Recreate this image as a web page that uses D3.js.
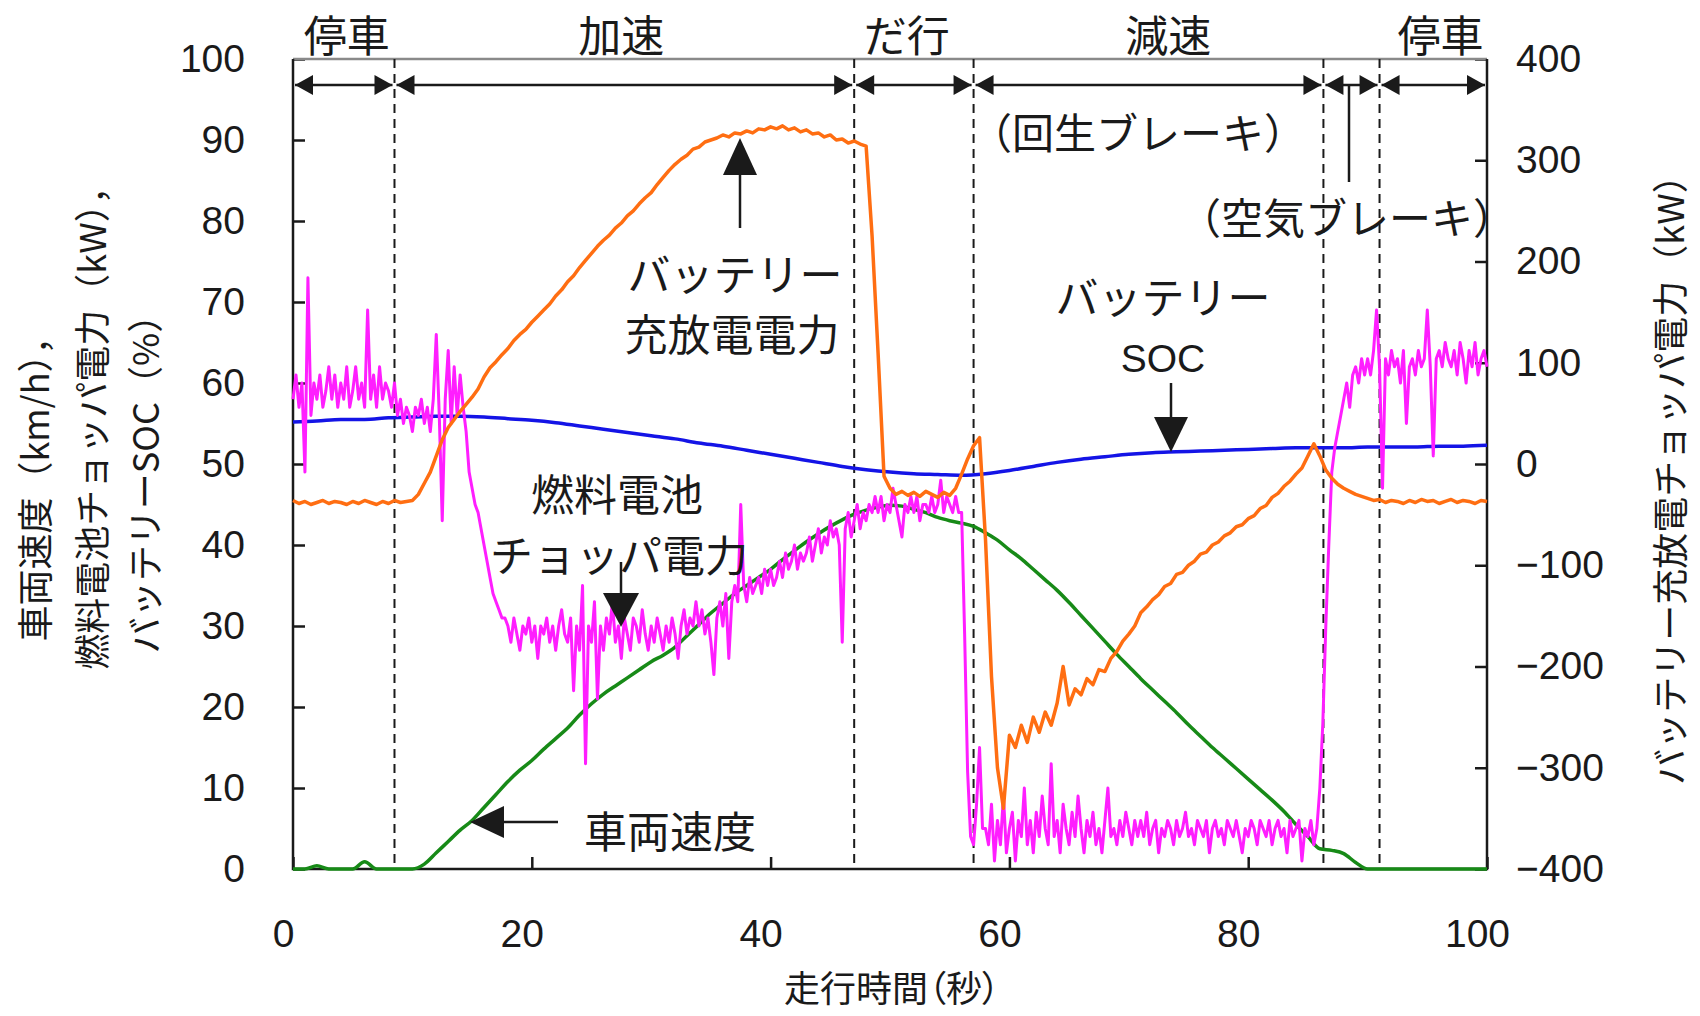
<!DOCTYPE html>
<html>
<head>
<meta charset="utf-8">
<script src="https://cdn.jsdelivr.net/npm/d3@7"></script>
<style>
  body { margin: 0; background: #fff; }
  .jp { font-family: "Noto Sans CJK JP", sans-serif; fill: #1a1a1a; }
  .palt { font-feature-settings: "palt"; }
</style>
</head>
<body>
<div id="body"></div>
<script>
// sampling step of each logged series (s)
let fcStep = 0.25, battStep = 0.5, socStep = 2, speedStep = 1

// fuel cell chopper power (kW), left axis, every 0.25 s
let fcPower = [
  58,61,57,60, 49,73,56,60, 58,61,57,59, 62,58,61,57, 60,58,62,57, 59,62,58,60, 57,69,58,61, 57,62,58,60, 59,57,60,56, 58,55,57,56,
  54,57,56,58, 55,57,54,58, 66,56,43,58, 64,55,62,56, 61,57,54,49, 47,45,44,42, 40,38,36,34, 33,32,31,31, 30,28,31,29, 27,30,29,31,
  28,30,26,30, 29,31,28,30, 27,30,32,29, 28,31,22,30, 27,35,13,30, 28,33,21,30, 27,31,29,33, 28,30,26,31, 29,27,31,30, 28,32,29,27,
  30,28,31,29, 27,30,28,31, 29,26,30,32, 29,31,30,33, 30,32,29,31, 28,24,31,33, 30,34,26,33, 35,33,45,35, 33,36,34,35, 36,34,37,35,
  37,35,36,38, 36,39,37,38, 40,37,39,38, 39,41,38,40, 42,39,41,40, 43,41,42,40, 28,42,44,41, 43,45,42,44, 43,45,44,46, 44,46,43,45,
  44,47,45,43, 41,45,44,46, 44,46,43,45, 45,44,46,44, 45,48,44,46, 45,44,46,44, 44,29,12,4, 3,8,15,5, 5,3,8,1, 6,3,9,2,
  5,7,1,6, 4,10,3,6, 2,7,4,9, 5,3,13,4, 6,2,8,5, 3,7,4,9, 5,2,6,4, 7,3,5,2, 6,10,4,5, 3,6,4,7,
  5,3,6,4, 6,4,7,3, 5,6,2,5, 4,6,5,3, 6,4,5,7, 4,5,3,6, 5,4,6,2, 5,6,4,5, 3,6,5,4, 6,4,2,5,
  4,6,5,3, 6,5,4,6, 3,5,6,4, 5,2,6,4, 5,6,1,5, 4,6,3,5, 10,18,30,40, 49,52,54,56, 58,60,57,61, 62,60,63,61,
  63,61,64,69, 62,47,63,61, 64,62,63,60, 64,55,62,63, 61,64,62,63, 69,62,51,63, 64,62,65,63, 62,64,61,65, 63,60,64,62, 65,61,63,64,
  62
]

// battery charge/discharge power (kW), right axis, every 0.5 s
let battPower = [
  -36,-39,-37,-40,-38,-36,-39,-37,-38,-40, -37,-39,-36,-38,-40,-37,-39,-36,-38,-37,
  -36,-30,-19,-8,8,24,36,44,52,59, 66,74,86,95,101,108,114,122,128,133,
  140,146,152,158,166,172,180,186,194,201, 208,215,221,226,233,238,245,250,257,263,
  268,276,283,290,296,301,305,311,313,318, 320,322,325,323,327,326,329,327,331,330,
  333,331,334,330,332,328,330,326,327,323, 325,320,321,317,319,316,314,225,110,-12,
  -24,-30,-27,-31,-28,-32,-27,-30,-33,-28, -31,-24,-10,5,18,26,-75,-210,-300,-340,
  -268,-280,-258,-275,-250,-265,-245,-258,-236,-200, -238,-222,-228,-212,-218,-203,-205,-192,-185,-175,
  -168,-160,-147,-141,-134,-129,-121,-118,-109,-107, -100,-96,-89,-87,-80,-77,-71,-68,-62,-60,
  -54,-51,-44,-41,-33,-29,-22,-17,-10,-4, 8,20,8,-6,-14,-20,-24,-27,-30,-32,
  -34,-36,-35,-38,-36,-37,-39,-36,-38,-35, -37,-36,-39,-37,-35,-38,-36,-37,-39,-36,
  -37
]

// battery SOC (%), left axis, every 2 s
let soc = [
  55.2,55.3,55.5,55.5,55.7,55.8,55.9,55.9,55.8,55.6,
  55.4,55.1,54.7,54.3,53.9,53.5,53.1,52.6,52.2,51.7,
  51.2,50.7,50.2,49.7,49.3,49.0,48.8,48.7,48.6,48.8,
  49.2,49.7,50.2,50.6,50.9,51.2,51.4,51.5,51.6,51.7,
  51.8,51.9,52.0,52.0,52.0,52.1,52.1,52.1,52.2,52.2,
  52.3
]

// vehicle speed (km/h), left axis, every 1 s
let speed = [
  0,0,0.4,0,0,0,0.9,0,0,0,
  0,0.6,2.0,3.4,4.8,6.0,7.6,9.2,10.8,12.2,
  13.4,14.8,16.1,17.4,19.0,20.4,21.6,22.6,23.6,24.6,
  25.6,26.4,27.4,28.8,30.2,31.6,32.8,34.0,35.0,36.0,
  37.0,38.2,39.3,40.4,41.4,42.3,43.1,43.8,44.3,44.7,
  44.9,44.8,44.4,44.0,43.4,43.0,42.7,42.3,41.5,40.6,
  39.4,38.3,37.0,35.7,34.4,32.9,31.3,29.7,28.1,26.5,
  25.0,23.5,22.1,20.7,19.3,17.8,16.4,15.0,13.7,12.4,
  11.1,9.8,8.5,7.1,5.5,4.0,2.5,2.3,1.9,0.8,
  0,0,0,0,0,0,0,0,0,0,0
]

// driving phases: boundaries (s) and names
let phaseBounds = [0, 8.5, 47.0, 57.0, 86.3, 91.0, 100]
let phaseNames = ["停車", "加速", "だ行", "減速", "停車"]

// tick labels
let xTicks = [0, 20, 40, 60, 80, 100]
let leftTicks = [0, 10, 20, 30, 40, 50, 60, 70, 80, 90, 100]
let rightTicks = [-400, -300, -200, -100, 0, 100, 200, 300, 400]

// layout of the phase names (s) -- placed by eye, not centred on the spans
let phaseLabelAt = [4.5, 27.5, 51.4, 73.3, 96.1]

// set the dimensions and margins of the graph
let margin = {top: 59, right: 213, bottom: 147, left: 293},
  width = 1700 - margin.left - margin.right,
  height = 1016 - margin.top - margin.bottom;

let root = d3.select("#body")
  .append("svg")
  .attr("width", 1700)
  .attr("height", 1016)
  .style("display", "block")

root.append("rect").attr("width", 1700).attr("height", 1016).attr("fill", "#fff")

let svg = root.append("g")
  .attr("transform", "translate(" + margin.left + "," + margin.top + ")")

let x = d3.scaleLinear().domain([0, 100]).range([0, width])
let yL = d3.scaleLinear().domain([0, 100]).range([height, 0])
let yR = d3.scaleLinear().domain([-400, 400]).range([height, 0])

let ink = "#1a1a1a"
let numFont = "'Liberation Sans', Arial, sans-serif"

function styleAxis(g) {
  g.select(".domain").remove()
  g.attr("font-size", 39).attr("font-family", numFont).attr("color", ink)
  g.selectAll(".tick line").attr("stroke-width", 2.5)
}

// Add X axis
svg.append("g")
  .attr("transform", "translate(0," + height + ")")
  .call(d3.axisBottom(x).tickValues(xTicks).tickSize(-12).tickSizeOuter(0).tickPadding(50))
  .call(styleAxis)
  .call(g => g.selectAll(".tick text").attr("dx", -10))

// Add left Y axis
svg.append("g")
  .call(d3.axisLeft(yL).tickValues(leftTicks).tickSize(-12).tickSizeOuter(0).tickPadding(48))
  .call(styleAxis)

// Add right Y axis
svg.append("g")
  .attr("transform", "translate(" + width + ",0)")
  .call(d3.axisRight(yR).tickValues(rightTicks).tickSize(-12).tickSizeOuter(0).tickPadding(29))
  .call(styleAxis)

// frame
svg.append("line").attr("x1", 0).attr("x2", width).attr("y1", 0).attr("y2", 0)
  .attr("stroke", "#8a8a8a").attr("stroke-width", 2.5)
svg.append("path")
  .attr("d", "M0,0V" + height + "H" + width + "V0")
  .attr("fill", "none").attr("stroke", ink).attr("stroke-width", 2.5)

// phase boundaries
svg.selectAll(".bound")
  .data(phaseBounds.slice(1, -1))
  .enter()
  .append("line")
  .attr("x1", d => x(d)).attr("x2", d => x(d))
  .attr("y1", 0).attr("y2", height)
  .attr("stroke", ink).attr("stroke-width", 2)
  .attr("stroke-dasharray", "9,6")

// series lines
function series(values, step, y, color, w, curve) {
  svg.append("path")
    .datum(values)
    .attr("d", d3.line()
      .x((d, i) => x(i * step))
      .y(d => y(d))
      .curve(curve || d3.curveLinear))
    .attr("fill", "none")
    .attr("stroke", color)
    .attr("stroke-width", w)
    .attr("stroke-linejoin", "round")
}
series(speed, speedStep, yL, "#178a17", 3.5, d3.curveMonotoneX)
series(soc, socStep, yL, "#1414e6", 3.5, d3.curveMonotoneX)
series(fcPower, fcStep, yL, "#ff1eff", 3)
series(battPower, battStep, yR, "#ff6e12", 3.5)

// phase arrows along the top
let arrowY = 26
function arrowHead(g, tipX, tipY, dir, len, half) {
  // dir: unit vector the arrow points to
  let bx = tipX - dir[0] * len, by = tipY - dir[1] * len
  let px = -dir[1] * half, py = dir[0] * half
  g.append("path")
    .attr("d", "M" + tipX + "," + tipY + "L" + (bx + px) + "," + (by + py) + "L" + (bx - px) + "," + (by - py) + "Z")
    .attr("fill", ink)
}
for (let i = 0; i < phaseBounds.length - 1; i++) {
  let a = x(phaseBounds[i]) + 2, b = x(phaseBounds[i + 1]) - 2
  svg.append("line").attr("x1", a).attr("x2", b).attr("y1", arrowY).attr("y2", arrowY)
    .attr("stroke", ink).attr("stroke-width", 2.5)
  arrowHead(svg, a, arrowY, [-1, 0], 18, 10)
  arrowHead(svg, b, arrowY, [1, 0], 18, 10)
}

// phase names
root.selectAll(".phase")
  .data(phaseNames)
  .enter()
  .append("text")
  .attr("class", "jp")
  .attr("x", (d, i) => margin.left + x(phaseLabelAt[i]))
  .attr("y", 33)
  .attr("text-anchor", "middle")
  .attr("dominant-baseline", "central")
  .attr("font-size", 43)
  .text(d => d)

// annotations (page coordinates)
function label(txt, px, py, size, cls, font) {
  let t = root.append("text")
    .attr("class", "jp " + (cls || ""))
    .attr("x", px).attr("y", py)
    .attr("text-anchor", "middle")
    .attr("dominant-baseline", "central")
    .attr("font-size", size)
    .text(txt)
  if (font) t.style("font-family", font)
  return t
}
function pointer(x1, y1, x2, y2, len, half) {
  let dx = x2 - x1, dy = y2 - y1, n = Math.hypot(dx, dy)
  let dir = [dx / n, dy / n]
  root.append("line")
    .attr("x1", x1).attr("y1", y1)
    .attr("x2", x2 - dir[0] * len * 0.8).attr("y2", y2 - dir[1] * len * 0.8)
    .attr("stroke", ink).attr("stroke-width", 2.5)
  arrowHead(root, x2, y2, dir, len, half)
}

label("バッテリー", 735, 272, 43)
label("充放電電力", 732, 332, 43)
pointer(740, 228, 740, 138, 37, 17)

label("燃料電池", 617, 492, 43)
label("チョッパ電力", 619, 553, 43)
pointer(621, 562, 621, 627, 34, 18)

label("車両速度", 670, 829, 43)
pointer(558, 822, 470, 822, 34, 16)

label("（回生ブレーキ）", 1138, 130, 42)
label("（空気ブレーキ）", 1347, 215, 42)
root.append("line").attr("x1", 1349).attr("x2", 1349).attr("y1", 85).attr("y2", 182)
  .attr("stroke", ink).attr("stroke-width", 2.5)

label("バッテリー", 1163, 295, 43)
label("SOC", 1163, 358, 39, "", numFont)
pointer(1171, 383, 1171, 452, 35, 17)

// axis titles
label("走行時間（秒）", 892, 986, 36, "palt")
label("車両速度（km/h），", 0, 0, 36).attr("transform", "translate(33,480) rotate(-90)")
label("燃料電池チョッパ電力（kW），", 0, 0, 36).attr("transform", "translate(90,419) rotate(-90)")
label("バッテリーSOC（%）", 0, 0, 36).attr("transform", "translate(143,475) rotate(-90)")
label("バッテリー充放電チョッパ電力（kW）", 0, 0, 36).attr("transform", "translate(1668,471) rotate(-90)")
</script>
</body>
</html>
